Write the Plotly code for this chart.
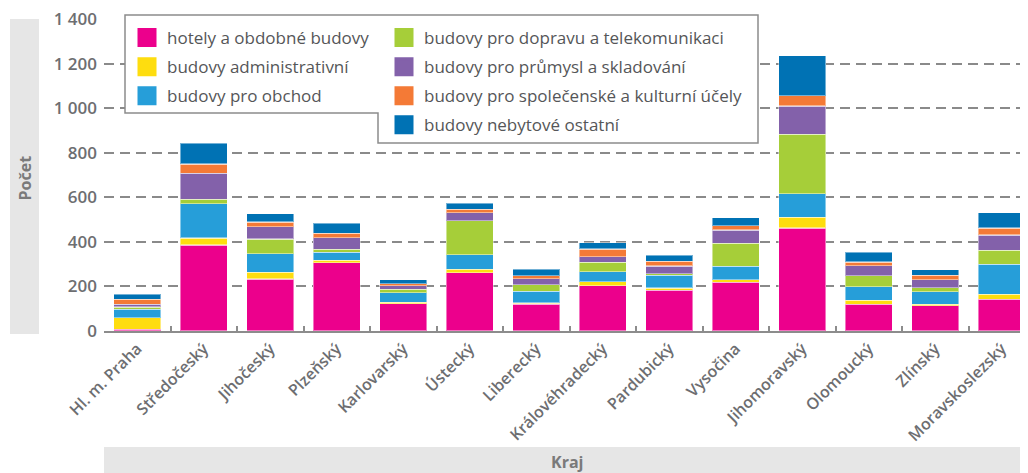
import plotly.graph_objects as go

kraje = ["Hl. m. Praha", "Středočeský", "Jihočeský", "Plzeňský", "Karlovarský",
         "Ústecký", "Liberecký", "Královéhradecký", "Pardubický", "Vysočina",
         "Jihomoravský", "Olomoucký", "Zlínský", "Moravskoslezský"]

hotely = [8, 386, 233, 307, 123, 261, 121, 203, 183, 219, 462, 120, 114, 143]
administrativni = [52, 31, 30, 10, 6, 15, 5, 18, 10, 12, 48, 18, 6, 22]
obchod = [38, 154, 84, 37, 42, 66, 52, 45, 57, 60, 106, 60, 56, 134]
doprava = [10, 20, 66, 12, 17, 153, 29, 42, 8, 102, 267, 50, 18, 64]
prumysl = [12, 117, 55, 52, 15, 36, 27, 25, 34, 60, 127, 45, 36, 68]
spolecenske = [22, 41, 21, 20, 10, 15, 15, 35, 20, 19, 45, 17, 20, 31]
ostatni = [23, 94, 38, 46, 18, 27, 27, 28, 29, 36, 180, 44, 25, 69]

series_names = ["hotely a obdobné budovy", "budovy administrativní", "budovy pro obchod",
                "budovy pro dopravu a telekomunikaci", "budovy pro průmysl a skladování",
                "budovy pro společenské a kulturní účely", "budovy nebytové ostatní"]
series_values = [hotely, administrativni, obchod, doprava, prumysl, spolecenske, ostatni]
series_colors = ["#EC008C", "#FEDD0F", "#269ED9", "#A6CE39", "#8361AA", "#F47A36", "#0072B4"]
legend_ids = ["legend", "legend", "legend", "legend2", "legend2", "legend2", "legend2"]

# the page body has an 8px margin: the figure starts at (8, 8) of the window
OFF = 8
W, H = 1028 - OFF, 473 - OFF
# plot area in window pixels
RL, RR, RT, RB = 104, 1028, 19, 331
PL, PR, PT, PB = RL - OFF, RR - OFF, RT - OFF, RB - OFF


def px(x):  # window x pixel -> paper coordinate
    return (x - RL) / (RR - RL)


def py(y):  # window y pixel -> paper coordinate
    return (RB - y) / (RB - RT)


FONT = "Open Sans"
GRAY = "#6d6e71"

fig = go.Figure()
for name, vals, col in zip(series_names, series_values, series_colors):
    fig.add_trace(go.Bar(
        x=kraje, y=vals, name=name, showlegend=False,
        marker=dict(color=col, line=dict(color="rgba(255,255,255,0.45)", width=1.2)),
    ))

# legend entries
for name, col, lg in zip(series_names, series_colors, legend_ids):
    fig.add_trace(go.Scatter(
        x=[None], y=[None], mode="markers", name=name, legend=lg, legendgroup=name,
        marker=dict(symbol="square", size=16, color=col, line=dict(color=col, width=3)),
    ))

# L-shaped legend frame
path = (f"M{px(125)},{py(15)} L{px(758)},{py(15)} L{px(758)},{py(143)} "
        f"L{px(378)},{py(143)} L{px(378)},{py(113)} L{px(125)},{py(113)} Z")
shapes = [
    dict(type="path", xref="paper", yref="paper", path=path,
         line=dict(color="#8c8c8c", width=1.5), fillcolor="white", layer="above"),
    dict(type="rect", xref="paper", yref="paper", x0=px(10), x1=px(39), y0=py(19), y1=py(334),
         line=dict(width=0), fillcolor="#e6e6e6", layer="below"),
    dict(type="rect", xref="paper", yref="paper", x0=px(104), x1=px(1028), y0=py(447), y1=py(473),
         line=dict(width=0), fillcolor="#e6e6e6", layer="below"),
]

annotations = [
    dict(text="<b>Počet</b>", xref="paper", yref="paper", x=px(24.5), y=py(178), textangle=-90,
         xanchor="center", yanchor="middle",
         showarrow=False, font=dict(family=FONT, size=16, color="#7a7a7a")),
    dict(text="<b>Kraj</b>", xref="paper", yref="paper", x=px(567), y=py(462),
         xanchor="center", yanchor="middle",
         showarrow=False, font=dict(family=FONT, size=16, color="#7a7a7a")),
]

legend_common = dict(xref="paper", yref="paper", xanchor="left", yanchor="top",
                     bgcolor="rgba(0,0,0,0)", borderwidth=0, tracegroupgap=4,
                     font=dict(family=FONT, size=17, color="#555658"))

fig.update_layout(
    width=W, height=H, autosize=False,
    margin=dict(l=PL, r=W - PR, t=PT, b=H - PB, pad=0, autoexpand=False),
    barmode="stack", bargap=0.29,
    plot_bgcolor="white", paper_bgcolor="white",
    separators=", ",
    font=dict(family=FONT, color=GRAY),
    shapes=shapes, annotations=annotations,
    legend=dict(x=px(127), y=py(20), **legend_common),
    legend2=dict(x=px(384), y=py(20), **legend_common),
    xaxis=dict(
        range=[-0.5, -0.5 + (RR - RL) / 66.5], tickangle=-45,
        showline=True, linecolor="#8c8c8c", linewidth=2,
        ticks="inside", ticklen=5, tickwidth=1.5, tickcolor="#8c8c8c", tickson="boundaries",
        showgrid=False, tickfont=dict(family=FONT, size=16, color=GRAY, weight=600),
    ),
    yaxis=dict(
        range=[0, 1400], dtick=200, separatethousands=True,
        showgrid=True, gridcolor="#8a8a8a", gridwidth=1.6, griddash="10px,6px",
        zeroline=False, showline=False, ticks="", ticklabelstandoff=6,
        ticklabeloverflow="allow",
        tickfont=dict(family=FONT, size=17, color=GRAY, weight=600),
    ),
)

fig.write_html("out.html")
